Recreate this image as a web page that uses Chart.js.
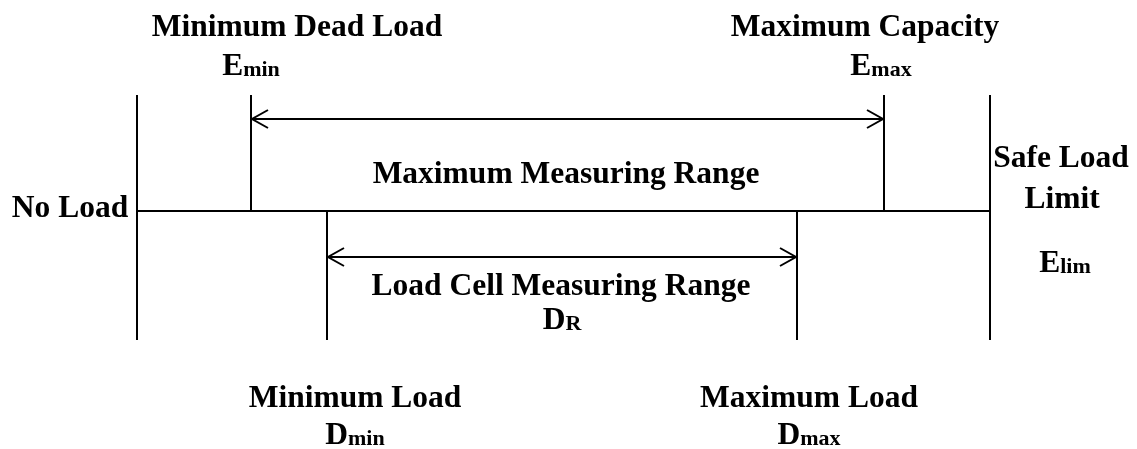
<!DOCTYPE html>
<html>
<head>
<meta charset="utf-8">
<script src="https://cdn.jsdelivr.net/npm/chart.js@4.4.1/dist/chart.umd.min.js"></script>
<style>
  html, body { margin: 0; padding: 0; background: #fff; }
  #wrap { width: 1137px; height: 449px; }
</style>
</head>
<body>
<div id="wrap"><canvas id="diagram" width="1137" height="449"></canvas></div>
<script>
// load levels along the horizontal axis (diagram units)
const levelNames = ['No Load', 'Emin', 'Dmin', 'Dmax', 'Emax', 'Elim'];
const levelX = [137, 251, 327, 797, 884, 990];
const levelTop = [95, 95, 211, 211, 95, 95];
const levelBottom = [340, 211, 340, 340, 211, 340];
const baseY = 211;

// measuring ranges: [from, to, height]
const rangeE = [251, 884, 119];
const rangeD = [327, 797, 257];

// text labels ("X|sub" = letter with subscript)
const labelText = [
    'Minimum Dead Load', 'E|min',
    'Maximum Capacity', 'E|max',
    'No Load',
    'Maximum Measuring Range',
    'Load Cell Measuring Range', 'D|R',
    'Safe Load', 'Limit', 'E|lim',
    'Minimum Load', 'D|min',
    'Maximum Load', 'D|max'
];
// label anchors: centre x and text baseline
const labelX = [297, 251, 865, 881, 70, 566, 561, 562, 1061, 1062, 1065, 355, 355, 809, 809];
const labelY = [36, 75, 36, 75, 217, 183, 295, 329, 167, 208, 272, 407, 444, 407, 444];

function seg(x1, y1, x2, y2) {
    return {
        data: [{ x: x1, y: y1 }, { x: x2, y: y2 }],
        borderColor: '#000',
        borderWidth: 2,
        pointRadius: 0,
        showLine: true,
        fill: false
    };
}

const datasets = [];
levelX.forEach((x, i) => datasets.push(seg(x, levelTop[i], x, levelBottom[i])));
datasets.push(seg(levelX[0], baseY, levelX[levelX.length - 1], baseY));
datasets.push(seg(rangeE[0], rangeE[2], rangeE[1], rangeE[2]));
datasets.push(seg(rangeD[0], rangeD[2], rangeD[1], rangeD[2]));

const decorPlugin = {
    id: 'decor',
    afterDraw(chart) {
        const ctx = chart.ctx;
        const xs = chart.scales.x;
        const ys = chart.scales.y;
        ctx.save();

        // open arrow heads at both ends of each range
        ctx.strokeStyle = '#000';
        ctx.lineWidth = 2;
        [rangeE, rangeD].forEach(r => {
            const y = ys.getPixelForValue(r[2]);
            const a = xs.getPixelForValue(r[0]);
            const b = xs.getPixelForValue(r[1]);
            ctx.beginPath();
            ctx.moveTo(a + 17, y - 9); ctx.lineTo(a + 1, y); ctx.lineTo(a + 17, y + 9);
            ctx.moveTo(b - 17, y - 9); ctx.lineTo(b - 1, y); ctx.lineTo(b - 17, y + 9);
            ctx.stroke();
        });

        // labels
        ctx.fillStyle = '#000';
        ctx.textBaseline = 'alphabetic';
        ctx.textAlign = 'left';
        const big = 'bold 31.5px "Liberation Serif", "Times New Roman", serif';
        const small = 'bold 22px "Liberation Serif", "Times New Roman", serif';
        labelText.forEach((t, i) => {
            const cx = xs.getPixelForValue(labelX[i]);
            const cy = ys.getPixelForValue(labelY[i]);
            const parts = t.split('|');
            ctx.font = big;
            const w1 = ctx.measureText(parts[0]).width;
            let w2 = 0;
            if (parts[1]) {
                ctx.font = small;
                w2 = ctx.measureText(parts[1]).width;
            }
            const left = cx - (w1 + w2) / 2;
            ctx.font = big;
            ctx.fillText(parts[0], left, cy);
            if (parts[1]) {
                ctx.font = small;
                ctx.fillText(parts[1], left + w1, cy + 1);
            }
        });
        ctx.restore();
    }
};

new Chart(document.getElementById('diagram'), {
    type: 'scatter',
    data: { datasets: datasets },
    options: {
        responsive: false,
        animation: false,
        devicePixelRatio: 1,
        layout: { padding: 0 },
        plugins: {
            legend: { display: false },
            tooltip: { enabled: false }
        },
        scales: {
            x: { type: 'linear', min: 0, max: 1137, display: false },
            y: { type: 'linear', min: 0, max: 449, reverse: true, display: false }
        }
    },
    plugins: [decorPlugin]
});
</script>
</body>
</html>
